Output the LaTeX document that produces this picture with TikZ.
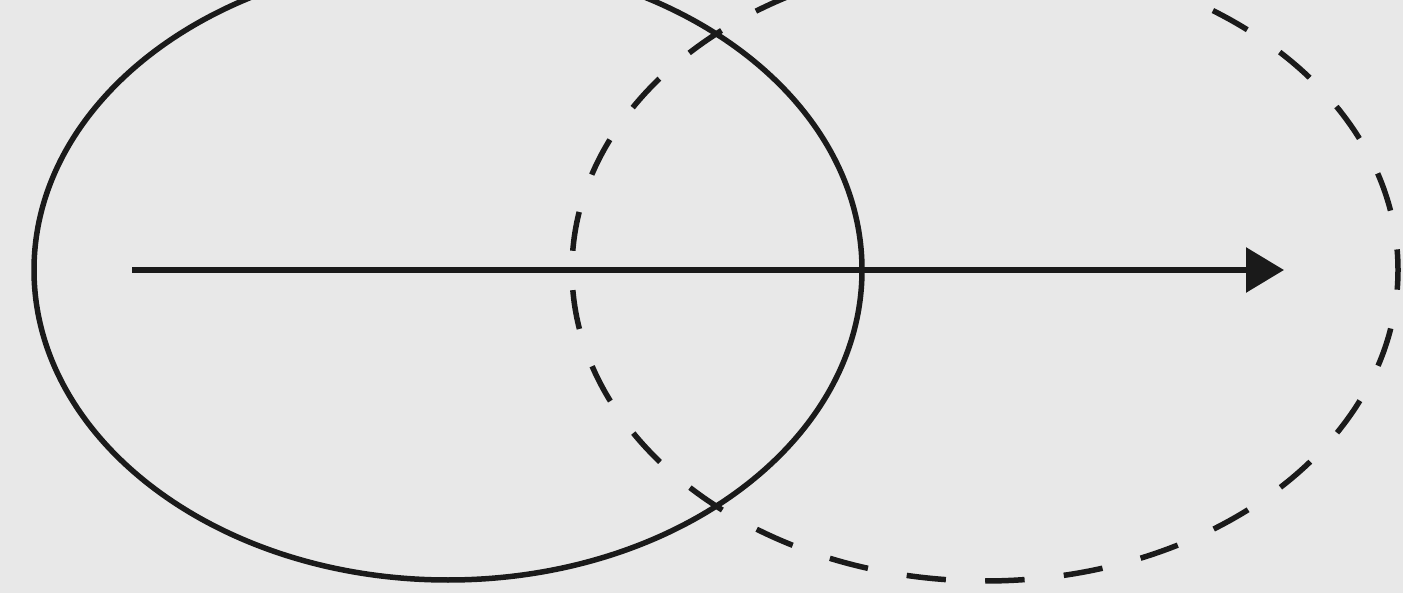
\documentclass[tikz,border=0pt]{standalone}
\usetikzlibrary{arrows.meta}
\definecolor{bg}{HTML}{E8E8E8}
\definecolor{ink}{HTML}{1A1A1A}
\tikzset{
  shape line/.style={draw=ink, line width=5.5pt},
  dashline/.style={shape line, dash pattern=on 39.4pt off 39.4pt, dash phase=19.7pt},
  arrowline/.style={draw=ink, line width=6pt, -{Triangle[length=38pt,width=44pt]}}
}
\begin{document}
\begin{tikzpicture}[x=1pt,y=-1pt]
\useasboundingbox (0,0) rectangle (1403,593);
\fill[bg] (0,0) rectangle (1403,593);
\begin{scope}
\clip (0,0) rectangle (1403,593);
\draw[shape line] (448,270) ellipse [x radius=414, y radius=310];
\draw[dashline] (985,270) ellipse [x radius=413, y radius=311];
\coordinate (start) at (132,270);
\coordinate (end) at (1284,270);
\draw[arrowline] (start) -- (end);
\end{scope}
\end{tikzpicture}
\end{document}
